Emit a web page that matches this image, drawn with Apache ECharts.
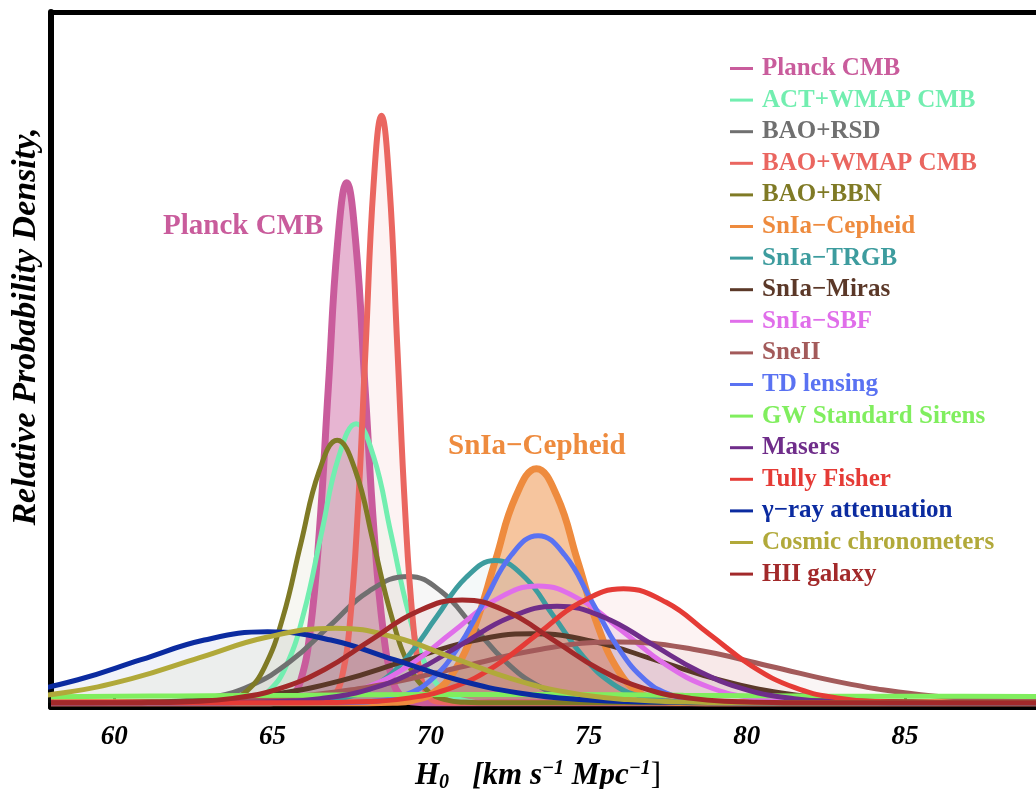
<!DOCTYPE html>
<html><head><meta charset="utf-8">
<script src="https://cdn.jsdelivr.net/npm/echarts@6/dist/echarts.min.js"></script>
<style>html,body{margin:0;padding:0;background:#fff}#c{width:1036px;height:789px}</style>
</head><body><div id="c"></div>
<script>
// ---- data ----
const seriesNames = ['Planck CMB','ACT+WMAP CMB','BAO+RSD','BAO+WMAP CMB','BAO+BBN','SnIa\u2212Cepheid','SnIa\u2212TRGB','SnIa\u2212Miras','SnIa\u2212SBF','SneII','TD lensing','GW Standard Sirens','Masers','Tully Fisher','\u03b3\u2212ray attenuation','Cosmic chronometers','HII galaxy'];
const seriesColors = ['#C95C9C','#72EEB0','#707070','#EA6660','#7F7A25','#EE8B3E','#3D9C9E','#5B3828','#E06EEA','#A35A5A','#5A72F2','#80EE5E','#6F2D8A','#E53B36','#0B2BA0','#B1A93A','#A2292A'];
const tickLabels = [60,65,70,75,80,85,90];

const planckX = [58,64.5,65.32,65.61,65.90,66.19,66.48,66.77,67.06,67.35,67.64,67.93,68.22,68.51,68.80,69.09,69.38,70.2,90];
const planckV = [0,0,.0017,.0084,.0331,.1019,.2445,.4567,.6645,.753,.6645,.4567,.2445,.1019,.0331,.0084,.0017,0,0];
const actX = [58,62.5,63.80,64.35,64.90,65.45,66.00,66.55,67.10,67.65,68.20,68.75,69.30,69.85,70.40,70.95,71.50,73,90];
const actV = [0,0,.0009,.0045,.0177,.0547,.1312,.2450,.3565,.404,.3565,.2450,.1312,.0547,.0177,.0045,.0009,0,0];
const rsdX = [58,60.55,61.80,63.05,64.30,65.55,66.80,68.05,69.30,70.33,71.35,72.38,73.40,74.43,75.45,76.48,78,90];
const rsdV = [0,.0004,.0020,.0080,.0248,.0594,.1110,.1615,.183,.1615,.1110,.0594,.0248,.0080,.0020,.0004,0,0];
const baoWmapX = [58,66.0,66.70,66.95,67.20,67.45,67.70,67.95,68.20,68.45,68.70,68.95,69.20,69.45,69.70,69.95,70.20,71.0,90];
const baoWmapV = [0,0,.0019,.0094,.0373,.1150,.2760,.5155,.7501,.85,.7501,.5155,.2760,.1150,.0373,.0094,.0019,0,0];
const bbnX = [58,62,63.03,63.60,64.18,64.75,65.33,65.90,66.48,67.05,67.63,68.20,68.78,69.35,69.93,70.50,71.08,72,90];
const bbnV = [0,0,.0008,.0042,.0167,.0514,.1234,.2305,.3354,.38,.3354,.2305,.1234,.0514,.0167,.0042,.0008,0,0];
const cephX = [58,68.0,68.80,69.45,70.10,70.75,71.40,72.05,72.70,73.35,74.00,74.65,75.30,75.95,76.60,77.25,77.90,79,90];
const cephV = [0,0,.0007,.0038,.0149,.0459,.1101,.2056,.2992,.339,.2992,.2056,.1101,.0459,.0149,.0038,.0007,0,0];
const trgbX = [58,64.5,65.58,66.50,67.43,68.35,69.28,70.20,71.13,72.05,72.98,73.90,74.83,75.75,76.68,77.60,78.53,80,90];
const trgbV = [0,0,.0005,.0023,.0090,.0279,.0669,.1249,.1818,.206,.1818,.1249,.0669,.0279,.0090,.0023,.0005,0,0];
const mirasX = [58,59.2,61.2,63.2,65.2,67.2,69.2,71.2,73.2,75.2,77.2,79.2,81.2,83.2,85.2,87.2,90];
const mirasV = [0,.0002,.0011,.0044,.0135,.0325,.0607,.0883,.100,.0883,.0607,.0325,.0135,.0044,.0011,.0002,0];
const sbfX = [58,62.8,63.95,65.30,66.65,68.00,69.35,70.70,72.05,73.40,74.75,76.10,77.45,78.80,80.15,81.50,82.85,84.5,90];
const sbfV = [0,0,.0004,.0019,.0074,.0229,.0549,.1025,.1491,.169,.1491,.1025,.0549,.0229,.0074,.0019,.0004,0,0];
const sneX = [58,59.1,61.5,63.9,66.3,68.7,71.1,73.5,75.9,78.3,80.7,83.1,85.5,87.9,90.3,92.7];
const sneV = [0,.0002,.0010,.0039,.0119,.0286,.0534,.0777,.088,.0777,.0534,.0286,.0119,.0039,.0010,.0002];
const tdX = [58,66.5,67.45,68.30,69.15,70.00,70.85,71.70,72.55,73.40,74.25,75.10,75.95,76.80,77.65,78.50,79.35,80.5,90];
const tdV = [0,0,.0005,.0027,.0106,.0327,.0786,.1468,.2136,.242,.2136,.1468,.0786,.0327,.0106,.0027,.0005,0,0];
const gwX = [58,62,66,70,74,78,82,86,90];
const gwV = [.009,.010,.011,.012,.012,.011,.010,.0095,.009];
const masersX = [58,62.0,63.5,65.0,66.5,68.0,69.5,71.0,72.5,74.0,75.5,77.0,78.5,80.0,81.5,83.0,84.5,86,90];
const masersV = [0,0,.0003,.0016,.0061,.0189,.0455,.0849,.1236,.140,.1236,.0849,.0455,.0189,.0061,.0016,.0003,0,0];
const tullyX = [58,65.0,66.65,68.00,69.35,70.70,72.05,73.40,74.75,76.10,77.45,78.80,80.15,81.50,82.85,84.20,85.55,87,90];
const tullyV = [0,0,.0004,.0018,.0072,.0223,.0536,.1001,.1456,.165,.1456,.1001,.0536,.0223,.0072,.0018,.0004,0,0];
const gammaX = [50.85,52.85,54.85,56.85,58.85,60.85,62.85,64.85,66.85,68.85,70.85,72.85,74.85,76.85,78.85,80.5,90];
const gammaV = [.0002,.0011,.0045,.0139,.0334,.0625,.0909,.103,.0909,.0625,.0334,.0139,.0045,.0011,.0002,0,0];
const ccX = [51.95,54.10,56.25,58.40,60.55,62.70,64.85,67.0,68.85,70.70,72.55,74.40,76.25,78.10,79.95,82,90];
const ccV = [.0002,.0012,.0047,.0146,.0351,.0655,.0953,.108,.0953,.0655,.0351,.0146,.0047,.0012,.0002,0,0];
const hiiX = [58,60.85,62.30,63.75,65.20,66.65,68.10,69.55,71.00,72.45,73.90,75.35,76.80,78.25,79.70,81.15,83,90];
const hiiV = [0,.0003,.0017,.0065,.0202,.0484,.0904,.1315,.149,.1315,.0904,.0484,.0202,.0065,.0017,.0003,0,0];

const curveX = [planckX,actX,rsdX,baoWmapX,bbnX,cephX,trgbX,mirasX,sbfX,sneX,tdX,gwX,masersX,tullyX,gammaX,ccX,hiiX];
const curveV = [planckV,actV,rsdV,baoWmapV,bbnV,cephV,trgbV,mirasV,sbfV,sneV,tdV,gwV,masersV,tullyV,gammaV,ccV,hiiV];

// ---- chart ----
const SERIF = '"Liberation Serif","DejaVu Serif",serif';
const chart = echarts.init(document.getElementById('c'), null, {renderer:'canvas'});
const fillOpacity = {0:0.45, 5:0.5, 3:0.08};
const lineWidth = {0:7, 5:7, 3:6};
const series = seriesNames.map((name,i)=>({
  name, type:'line', smooth:0.45, showSymbol:false, symbol:'none',
  color: seriesColors[i],
  lineStyle:{width: lineWidth[i] || 5, color: seriesColors[i]},
  areaStyle:{color: seriesColors[i], opacity: fillOpacity[i] !== undefined ? fillOpacity[i] : 0.06},
  data: curveX[i].map((x,k)=>[x, curveV[i][k]]),
  z: 2
}));

chart.setOption({
  animation:false,
  backgroundColor:'#fff',
  grid:{left:51, right:-27, top:12, bottom:82, containLabel:false, outerBoundsMode:'none'},
  xAxis:[{
    type:'value', min:58, max:90, position:'bottom',
    axisLine:{show:true, onZero:false, lineStyle:{color:'#000', width:6}},
    axisTick:{show:true, inside:true, length:9, customValues:tickLabels, lineStyle:{color:'#000', width:3}},
    axisLabel:{show:true, customValues:tickLabels, margin:17, color:'#000', fontFamily:SERIF, fontSize:27, fontWeight:'bold', fontStyle:'italic'},
    splitLine:{show:false},
    name:'{i|H}{sub|0}{i|   [km s}{sup|\u22121}{i| Mpc}{sup|\u22121}{r|]}',
    nameLocation:'middle', nameGap:52,
    nameTextStyle:{padding:[0,38,0,0], rich:{
      i:{fontFamily:SERIF, fontSize:31, fontWeight:'bold', fontStyle:'italic', color:'#000', lineHeight:34},
      r:{fontFamily:SERIF, fontSize:31, fontWeight:'normal', color:'#000', lineHeight:34},
      sub:{fontFamily:SERIF, fontSize:20, fontWeight:'bold', fontStyle:'italic', color:'#000', verticalAlign:'bottom', lineHeight:34, padding:[9,0,0,0]},
      sup:{fontFamily:SERIF, fontSize:20, fontWeight:'bold', fontStyle:'italic', color:'#000', verticalAlign:'top', lineHeight:34, padding:[0,0,11,0]}
    }}
  },{
    type:'value', min:58, max:90, position:'top',
    axisLine:{show:true, onZero:false, lineStyle:{color:'#000', width:5}},
    axisTick:{show:false}, axisLabel:{show:false}, splitLine:{show:false}
  }],
  yAxis:{
    type:'value', min:-0.006, max:1,
    axisLine:{show:true, onZero:false, lineStyle:{color:'#000', width:6}},
    axisTick:{show:false}, axisLabel:{show:false}, splitLine:{show:false},
    name:'Relative Probability Density,', nameLocation:'middle', nameGap:8, nameRotate:90,
    nameTextStyle:{fontFamily:SERIF, fontSize:34, fontWeight:'bold', fontStyle:'italic', color:'#000', padding:[0,0,0,66]}
  },
  legend:{
    orient:'vertical', left:730, top:56, padding:0, itemGap:6.6, selectedMode:false,
    icon:'rect', itemWidth:23, itemHeight:3,
    textStyle:{fontFamily:SERIF, fontSize:25, fontWeight:'bold', padding:[0,0,0,4]},
    data: seriesNames.map((n,i)=>({name:n, textStyle:{color:seriesColors[i]}}))
  },
  graphic:[
    {type:'text', left:163, top:212, style:{text:'Planck CMB', fill:seriesColors[0], font:'bold 29px '+SERIF}},
    {type:'text', left:448, top:432, style:{text:'SnIa\u2212Cepheid', fill:seriesColors[5], font:'bold 29px '+SERIF}}
  ],
  series
});
</script></body></html>
